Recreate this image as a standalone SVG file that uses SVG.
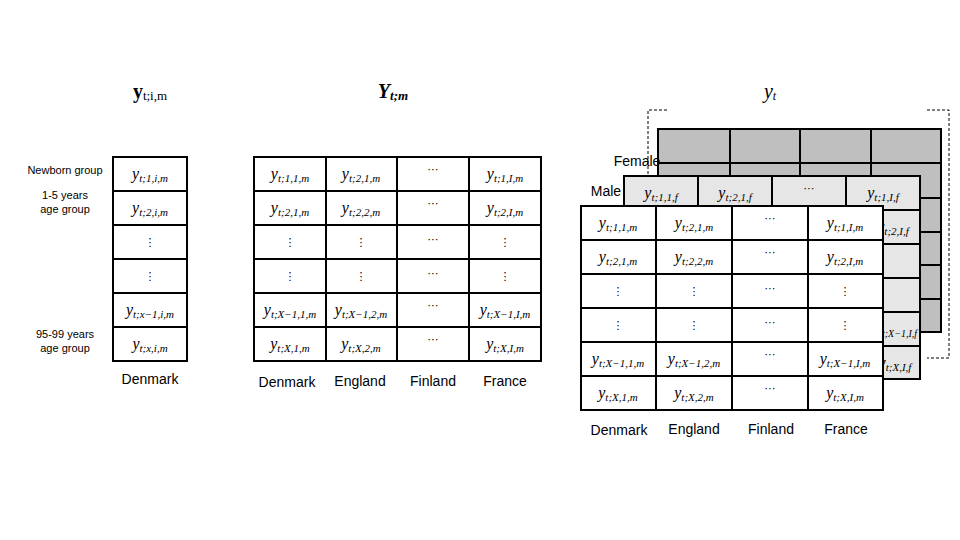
<svg xmlns="http://www.w3.org/2000/svg" width="960" height="540" viewBox="0 0 960 540">
<style>
.g{fill:none;stroke:#000;stroke-width:2}
.w{fill:#fff;stroke:#000;stroke-width:2}
.g1{fill:#bfbfbf;stroke:#000;stroke-width:2}
.g2{fill:#e6e6e6;stroke:#000;stroke-width:2}
.c{font-family:"Liberation Serif",serif;font-style:italic;font-size:16px;text-anchor:middle;fill:#000}
.s{font-size:11px}
.d{font-family:"DejaVu Sans",sans-serif;font-size:11px;text-anchor:middle;fill:#000}
.l{font-family:"Liberation Sans",sans-serif;font-size:11px;text-anchor:middle;fill:#000}
.n{font-family:"Liberation Sans",sans-serif;font-size:14px;text-anchor:middle;fill:#000}
.t{font-family:"Liberation Serif",serif;font-size:20px;text-anchor:middle;fill:#000}
.br{fill:none;stroke:#000;stroke-width:1;stroke-dasharray:3,2}
</style>
<rect width="960" height="540" fill="#fff"/>
<g id="titles">
<text class="t" x="150" y="98" font-weight="bold">y<tspan font-size="13" dy="2" font-weight="normal">t;i,m</tspan></text>
<text class="t" x="393" y="98" font-weight="bold" font-style="italic">Y<tspan font-size="13" dy="2">t;m</tspan></text>
<text class="t" x="770" y="98" font-style="italic" fill="#555">y<tspan font-size="12" dy="2">t</tspan></text>
</g>
<g id="left-table">
<rect x="113" y="157" width="74" height="204" class="w"/>
<path class="g" d="M113 191H187M113 225H187M113 259H187M113 293H187M113 327H187"/>
<text class="c" x="150" y="179">y<tspan class="s" dy="3">t;1,i,m</tspan></text>
<text class="c" x="150" y="213">y<tspan class="s" dy="3">t;2,i,m</tspan></text>
<text class="d" x="150" y="246">⋮</text>
<text class="d" x="150" y="280">⋮</text>
<text class="c" x="150" y="315">y<tspan class="s" dy="3">t;x−1,i,m</tspan></text>
<text class="c" x="150" y="349">y<tspan class="s" dy="3">t;x,i,m</tspan></text>
<text class="l" x="65" y="174">Newborn group</text>
<text class="l" x="65" y="199">1-5 years</text>
<text class="l" x="65" y="213">age group</text>
<text class="l" x="65" y="338">95-99 years</text>
<text class="l" x="65" y="352">age group</text>
<text class="n" x="150" y="384">Denmark</text>
</g>
<g id="middle-table">
<rect x="254" y="157" width="287" height="204" class="w"/>
<path class="g" d="M254 191H541M254 225H541M254 259H541M254 293H541M254 327H541M326 157V361M397 157V361M469 157V361"/>
<text class="c" x="290" y="179">y<tspan class="s" dy="3">t;1,1,m</tspan></text>
<text class="c" x="361" y="179">y<tspan class="s" dy="3">t;2,1,m</tspan></text>
<text class="d" x="433" y="173">⋯</text>
<text class="c" x="505" y="179">y<tspan class="s" dy="3">t;1,I,m</tspan></text>
<text class="c" x="290" y="213">y<tspan class="s" dy="3">t;2,1,m</tspan></text>
<text class="c" x="361" y="213">y<tspan class="s" dy="3">t;2,2,m</tspan></text>
<text class="d" x="433" y="207">⋯</text>
<text class="c" x="505" y="213">y<tspan class="s" dy="3">t;2,I,m</tspan></text>
<text class="d" x="290" y="246">⋮</text><text class="d" x="361" y="246">⋮</text><text class="d" x="433" y="243">⋯</text><text class="d" x="505" y="246">⋮</text>
<text class="d" x="290" y="280">⋮</text><text class="d" x="361" y="280">⋮</text><text class="d" x="433" y="277">⋯</text><text class="d" x="505" y="280">⋮</text>
<text class="c" x="290" y="315" font-size="15">y<tspan class="s" dy="3">t;X−1,1,m</tspan></text>
<text class="c" x="361" y="315" font-size="15">y<tspan class="s" dy="3">t;X−1,2,m</tspan></text>
<text class="d" x="433" y="309">⋯</text>
<text class="c" x="505" y="315" font-size="15">y<tspan class="s" dy="3">t;X−1,I,m</tspan></text>
<text class="c" x="290" y="349">y<tspan class="s" dy="3">t;X,1,m</tspan></text>
<text class="c" x="361" y="349">y<tspan class="s" dy="3">t;X,2,m</tspan></text>
<text class="d" x="433" y="343">⋯</text>
<text class="c" x="505" y="349">y<tspan class="s" dy="3">t;X,I,m</tspan></text>
<text class="n" x="287" y="387">Denmark</text>
<text class="n" x="360" y="386">England</text>
<text class="n" x="433" y="386">Finland</text>
<text class="n" x="505" y="386">France</text>
</g>
<g id="bracket">
<path class="br" d="M667 110H648V176"/>
<path class="br" d="M927 110H949V358H927"/>
</g>
<g id="back-table">
<rect x="658" y="129" width="283" height="203" class="g1"/>
<path class="g" d="M658 163H941M658 198H941M658 232H941M658 265H941M658 299H941M730 129V332M800 129V332M871 129V332"/>
<text class="n" x="637" y="166" font-size="13">Female</text>
</g>
<g id="female-table">
<rect x="624" y="176" width="296" height="203" class="g2"/>
<path class="g" d="M624 210H920M624 244H920M624 278H920M624 312H920M624 346H920M698 176V379M772 176V379M846 176V379"/>
<text class="c" x="661" y="198">y<tspan class="s" dy="3">t;1,1,f</tspan></text>
<text class="c" x="735" y="198">y<tspan class="s" dy="3">t;2,1,f</tspan></text>
<text class="d" x="809" y="192">⋯</text>
<text class="c" x="883" y="198">y<tspan class="s" dy="3">t;1,I,f</tspan></text>
<text class="c" x="893" y="232" font-size="14">y<tspan class="s" dy="3">t;2,I,f</tspan></text>
<text class="c" x="896" y="334" font-size="13">y<tspan font-size="10" dy="3">t;X−1,I,f</tspan></text>
<text class="c" x="895" y="368" font-size="14">y<tspan class="s" dy="3">t;X,I,f</tspan></text>
<text class="n" x="606" y="196" font-size="13">Male</text>
</g>
<g id="front-table">
<rect x="581" y="206" width="302" height="204" class="w"/>
<path class="g" d="M581 240H883M581 274H883M581 308H883M581 342H883M581 376H883M656 206V410M732 206V410M808 206V410"/>
<text class="c" x="618" y="228">y<tspan class="s" dy="3">t;1,1,m</tspan></text>
<text class="c" x="694" y="228">y<tspan class="s" dy="3">t;2,1,m</tspan></text>
<text class="d" x="770" y="222">⋯</text>
<text class="c" x="845" y="228">y<tspan class="s" dy="3">t;1,I,m</tspan></text>
<text class="c" x="618" y="262">y<tspan class="s" dy="3">t;2,1,m</tspan></text>
<text class="c" x="694" y="262">y<tspan class="s" dy="3">t;2,2,m</tspan></text>
<text class="d" x="770" y="256">⋯</text>
<text class="c" x="845" y="262">y<tspan class="s" dy="3">t;2,I,m</tspan></text>
<text class="d" x="618" y="295">⋮</text><text class="d" x="694" y="295">⋮</text><text class="d" x="770" y="292">⋯</text><text class="d" x="845" y="295">⋮</text>
<text class="d" x="618" y="329">⋮</text><text class="d" x="694" y="329">⋮</text><text class="d" x="770" y="326">⋯</text><text class="d" x="845" y="329">⋮</text>
<text class="c" x="618" y="364" font-size="15">y<tspan class="s" dy="3">t;X−1,1,m</tspan></text>
<text class="c" x="694" y="364" font-size="15">y<tspan class="s" dy="3">t;X−1,2,m</tspan></text>
<text class="d" x="770" y="358">⋯</text>
<text class="c" x="845" y="364" font-size="15">y<tspan class="s" dy="3">t;X−1,I,m</tspan></text>
<text class="c" x="618" y="398">y<tspan class="s" dy="3">t;X,1,m</tspan></text>
<text class="c" x="694" y="398">y<tspan class="s" dy="3">t;X,2,m</tspan></text>
<text class="d" x="770" y="392">⋯</text>
<text class="c" x="845" y="398">y<tspan class="s" dy="3">t;X,I,m</tspan></text>
<text class="n" x="619" y="435">Denmark</text>
<text class="n" x="694" y="434">England</text>
<text class="n" x="771" y="434">Finland</text>
<text class="n" x="846" y="434">France</text>
</g>
</svg>
